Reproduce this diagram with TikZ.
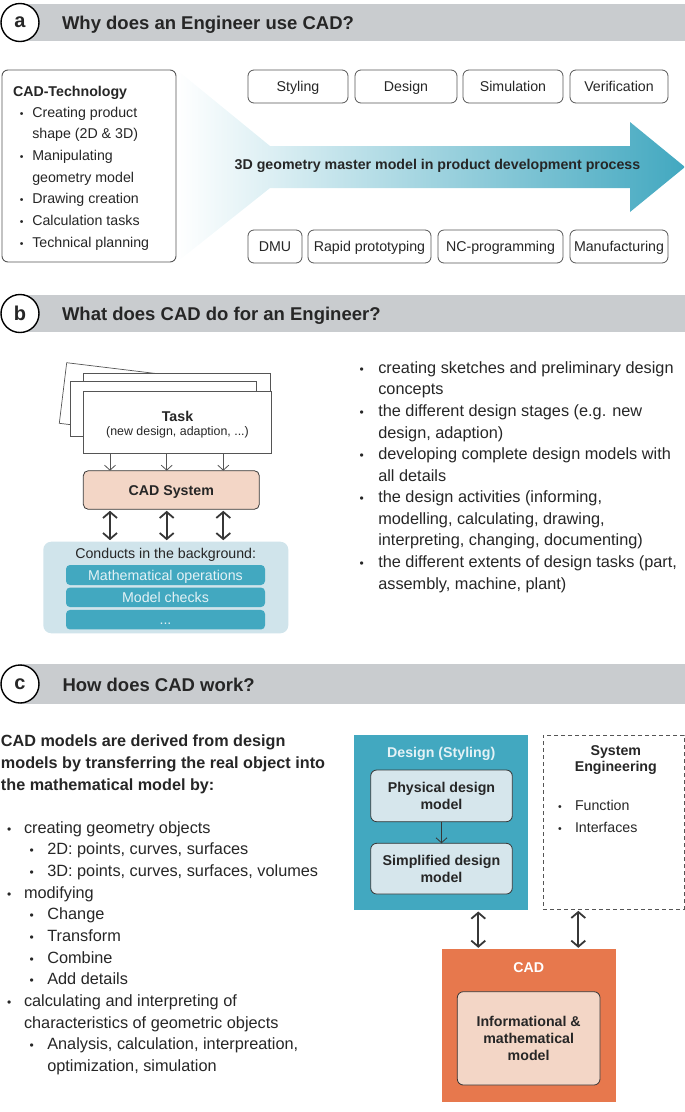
\documentclass[tikz,border=0pt]{standalone}
\usepackage{fontspec}
\setmainfont{Liberation Sans}
\usetikzlibrary{arrows.meta}
\definecolor{hdrgray}{RGB}{201,204,207}
\definecolor{tealc}{RGB}{66,168,192}
\definecolor{bgteal}{RGB}{208,228,235}
\definecolor{paleblue}{RGB}{214,230,236}
\definecolor{peach}{RGB}{243,214,198}
\definecolor{orangec}{RGB}{231,120,77}
\definecolor{txt}{RGB}{38,38,38}
\definecolor{bord}{RGB}{85,85,85}
\definecolor{darkarr}{RGB}{55,55,55}
\definecolor{lighttxt}{RGB}{228,242,246}
\newcommand\fdiag{\fontsize{14.2}{16.6}\selectfont}
\newcommand\fbody{\fontsize{16.3}{21.7}\selectfont}
\newcommand\fhead{\fontsize{18.5}{22}\selectfont}
\newcommand\fcirc{\fontsize{20}{24}\selectfont}
\newcommand\fbul{\fontsize{12}{14}\selectfont}
\newcommand\fbulsm{\fontsize{10.5}{12}\selectfont}
\begin{document}
\begin{tikzpicture}[x=1pt,y=-1pt,
  every node/.style={text=txt, inner sep=0pt, outer sep=0pt},
  hcirc/.style={circle, draw=black, line width=1.4pt, fill=white, minimum size=38pt, font=\fcirc\bfseries},
  htext/.style={anchor=base west, font=\fhead\bfseries},
  pbox/.style={draw=bord, rounded corners=6pt, line width=0.8pt, minimum height=33pt, font=\fdiag, text height=10.2pt, text depth=0pt},
  ln/.style={anchor=base west},
  bul/.style={anchor=base, font=\fbul},
  page/.style={draw=bord, fill=white, line width=0.7pt},
  thinarr/.style={draw=bord, line width=0.8pt, -{Straight Barb[length=5pt,width=11pt]}},
  dblarr/.style={draw=darkarr, line width=1.8pt, {Straight Barb[length=6pt,width=14pt]}-{Straight Barb[length=6pt,width=14pt]}, shorten >=1.5pt, shorten <=1.5pt},
  ibox/.style={draw=darkarr, rounded corners=6pt, line width=0.8pt, font=\fdiag\bfseries, align=center}
]
\useasboundingbox (0,0) rectangle (685,1112);

% ---------------- Section a ----------------
\fill[hdrgray] (20,4) rectangle (685,41);
\node[hcirc] (ca) at (20,22.5) {a};
\node[htext] (ha) at (62,29) {Why does an Engineer use CAD?};

\shade[left color=white, right color=tealc] (177,70) -- (270,146) -- (630,146) -- (630,122) -- (685,167) -- (630,212) -- (630,188) -- (270,188) -- (177,262) -- cycle;
\node[font=\fdiag\bfseries] (amt) at (437.5,166) {3D geometry master model in product development process};

\node[draw=bord, rounded corners=6pt, line width=0.9pt, anchor=north west, minimum width=174pt, minimum height=192pt, fill=white] (cadtech) at (2,70) {};
\node[ln, font=\fdiag\bfseries] (cadtt) at (13,96) {CAD-Technology};
\foreach \t/\b [count=\i from 0] in {Creating product/1, shape (2D \& 3D)/0, Manipulating/1, geometry model/0, Drawing creation/1, Calculation tasks/1, Technical planning/1}{
  \node[ln, font=\fdiag] (at\i) at (32.3,117+21.7*\i) {\t};
  \ifnum\b=1 \node[anchor=base, font=\fbulsm] (ab\i) at (21.7,117+21.7*\i) {•};\fi
}

\node[pbox, minimum width=100pt] (sty) at (298,86.5) {Styling};
\node[pbox, minimum width=102pt] (des) at (406,86.5) {Design};
\node[pbox, minimum width=100pt] (sim) at (513,86.5) {Simulation};
\node[pbox, minimum width=98pt] (ver) at (619,86.5) {Verification};
\node[pbox, minimum width=54pt] (dmu) at (275,246.5) {DMU};
\node[pbox, minimum width=123pt] (rap) at (369.5,246.5) {Rapid prototyping};
\node[pbox, minimum width=125pt] (ncp) at (500.5,246.5) {NC-programming};
\node[pbox, minimum width=98pt] (man) at (619,246.5) {Manufacturing};

% ---------------- Section b ----------------
\fill[hdrgray] (20,295) rectangle (685,332);
\node[hcirc] (cb) at (20,313.5) {b};
\node[htext] (hb) at (62,320.5) {What does CAD do for an Engineer?};

\draw[page] (66.7,362.7) -- (252.3,385.2) -- (244.9,445.8) -- (59.3,423.3) -- cycle;
\draw[page] (83.3,373.3) rectangle (270,433.3);
\draw[page] (70,381.7) rectangle (256.7,436.7);
\node[page, anchor=north west, minimum width=188.4pt, minimum height=61.6pt] (task) at (83.3,391.7) {};
\node[anchor=base, font=\fdiag\bfseries] (tasklbl) at (177.5,421) {Task};
\node[anchor=base, font=\fontsize{12.4}{14}\selectfont] (tasksub) at (177.5,435.5) {(new design, adaption, ...)};

\node[draw=darkarr, fill=peach, rounded corners=5pt, line width=0.8pt, anchor=north west, minimum width=176pt, minimum height=38.6pt] (cads) at (83.3,470.7) {};
\node[anchor=base, font=\fdiag\bfseries] (cadslbl) at (171.3,495.5) {CAD System};

\node[fill=bgteal, rounded corners=8pt, anchor=north west, minimum width=245pt, minimum height=91.6pt] (bg) at (43.3,541.7) {};
\node[anchor=base, font=\fdiag] (bgt) at (165.7,558.3) {Conducts in the background:};
\node[fill=tealc, rounded corners=4pt, minimum width=199pt, minimum height=20pt, text=lighttxt, font=\fdiag, text height=10.2pt, text depth=0pt] (m1) at (165.5,575) {Mathematical operations};
\node[fill=tealc, rounded corners=4pt, minimum width=199pt, minimum height=19.5pt, text=lighttxt, font=\fdiag, text height=10.2pt, text depth=0pt] (m2) at (165.5,597.3) {Model checks};
\node[fill=tealc, rounded corners=4pt, minimum width=199pt, minimum height=19.5pt, text=lighttxt, font=\fdiag, text height=10.2pt, text depth=0pt] (m3) at (165.5,619.7) {...};

\coordinate (x1) at (110,0);
\coordinate (x2) at (166.7,0);
\coordinate (x3) at (223.3,0);
\foreach \c in {x1,x2,x3}{
  \draw[thinarr] (\c |- task.south) -- (\c |- cads.north);
  \draw[dblarr] (\c |- cads.south) -- (\c |- bg.north);
}

\foreach \t [count=\i from 0] in {{creating sketches and preliminary design}, concepts, {the different design stages (e.g. new}, {design, adaption)}, {developing complete design models with}, all details, {the design  activities (informing,}, {modelling, calculating, drawing,}, {interpreting, changing, documenting)}, {the different extents of design tasks (part,}, {assembly, machine, plant)}}{
  \node[ln, font=\fbody] (bl\i) at (378.3,373.3+21.57*\i) {\t};
}
\foreach \i in {0,2,4,6,9}{
  \node[bul] (bb\i) at (361.7,373.3+21.57*\i) {•};
}

% ---------------- Section c ----------------
\fill[hdrgray] (20,664) rectangle (685,704);
\node[hcirc] (cc) at (20,684) {c};
\node[htext] (hc) at (62.5,691.7) {How does CAD work?};

\foreach \t [count=\i from 0] in {CAD models are derived from design, models by transferring the real object into, the mathematical model by:}{
  \node[ln, font=\fontsize{16.2}{21.6}\selectfont\bfseries] (lead\i) at (1,746.7+21.65*\i) {\t};
}
\foreach \x/\t [count=\i from 0] in {24/creating geometry objects, 47.3/{2D: points, curves, surfaces}, 47.3/{3D: points, curves, surfaces, volumes}, 24/modifying, 47.3/Change, 47.3/Transform, 47.3/Combine, 47.3/Add details, 24/calculating and interpreting  of, 24/characteristics of geometric objects, 47.3/{Analysis, calculation, interpreation,}, 47.3/{optimization, simulation}}{
  \node[ln, font=\fbody] (cl\i) at (\x,833.3+21.66*\i) {\t};
}
\foreach \x/\i in {9.3/0, 31.7/1, 31.7/2, 9.3/3, 31.7/4, 31.7/5, 31.7/6, 31.7/7, 9.3/8, 31.7/10}{
  \node[bul] (cb\i) at (\x,833.3+21.66*\i) {•};
}

% right diagram
\node[fill=tealc, anchor=north west, minimum width=174.3pt, minimum height=175pt] (dsg) at (354,735) {};
\node[anchor=base, font=\fdiag\bfseries, text=lighttxt] (dsgt) at (441.2,757) {Design (Styling)};
\node[ibox, fill=paleblue, anchor=north west, minimum width=141.6pt, minimum height=51.7pt] (phys) at (370.7,770) {};
\node[font=\fdiag\bfseries, align=center] (physt) at (phys.center) {Physical design\\model};
\node[ibox, fill=paleblue, anchor=north west, minimum width=141.6pt, minimum height=50.7pt] (simp) at (370.7,843.3) {};
\node[font=\fdiag\bfseries, align=center] (simpt) at (simp.center) {Simplified design\\model};
\draw[thinarr, draw=darkarr] (phys.south) -- (simp.north);

\node[draw=bord, dashed, dash pattern=on 4pt off 3pt, line width=0.8pt, anchor=north west, minimum width=140.7pt, minimum height=174.3pt] (syse) at (543.3,735) {};
\node[anchor=base, font=\fdiag\bfseries] (syst1) at (615.8,755) {System};
\node[anchor=base, font=\fdiag\bfseries] (syst2) at (615.8,771.7) {Engineering};
\node[ln, font=\fdiag] (sf) at (575,810.7) {Function};
\node[ln, font=\fdiag] (si) at (575,832) {Interfaces};
\node[anchor=base, font=\fbulsm] (sfb) at (560,810.7) {•};
\node[anchor=base, font=\fbulsm] (sib) at (560,832) {•};

\node[fill=orangec, anchor=north west, minimum width=174.3pt, minimum height=152.4pt] (cad) at (441.7,949.3) {};
\node[anchor=base, font=\fdiag\bfseries, text=white] (cadt) at (528.8,972.7) {CAD};
\node[ibox, fill=peach, anchor=north west, minimum width=142.7pt, minimum height=93.3pt] (info) at (457.3,991.7) {};
\node[font=\fdiag\bfseries, align=center] (infot) at (info.center) {Informational \&\\mathematical\\model};

\coordinate (y1) at (478.3,0);
\coordinate (y2) at (578.3,0);
\draw[dblarr] (y1 |- dsg.south) -- (y1 |- cad.north);
\draw[dblarr] (y2 |- syse.south) -- (y2 |- cad.north);
\end{tikzpicture}
\end{document}
